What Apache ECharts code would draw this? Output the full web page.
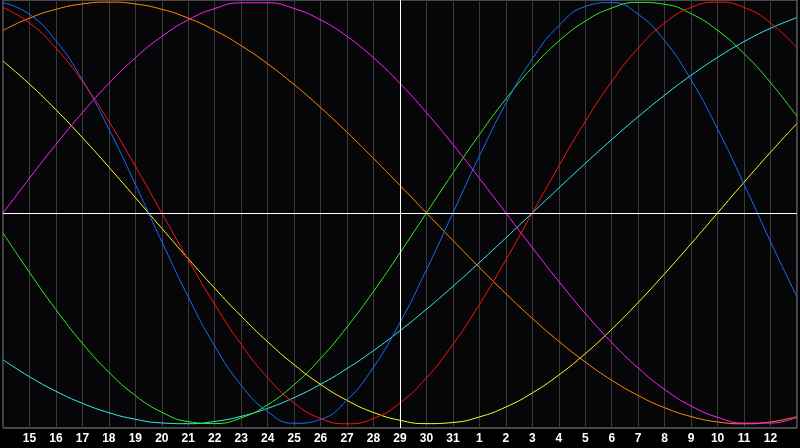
<!DOCTYPE html>
<html>
<head>
<meta charset="utf-8">
<script src="https://cdn.jsdelivr.net/npm/echarts@6/dist/echarts.min.js"></script>
<style>
html,body{margin:0;padding:0;background:#000;}
#chart{width:800px;height:448px;}
</style>
</head>
<body>
<div id="chart"></div>
<script>
// Day categories (first and last are edge points without labels)
const days = ['14','15','16','17','18','19','20','21','22','23','24','25','26','27','28','29','30','31',
              '1','2','3','4','5','6','7','8','9','10','11','12','13'];
const todayLabel = '29';

// Curve values, one per day
const blueVals = [0.9977,0.9423,0.8170,0.6311,0.3984,0.1362,-0.1362,-0.3984,-0.6311,-0.8170,-0.9423,-0.9977,-0.9791,-0.8879,-0.7308,-0.5196,-0.2698,0,0.2698,0.5196,0.7308,0.8879,0.9791,0.9977,0.9423,0.8170,0.6311,0.3984,0.1362,-0.1362,-0.3984];
const redVals = [0.9749,0.9010,0.7818,0.6235,0.4339,0.2225,0,-0.2225,-0.4339,-0.6235,-0.7818,-0.9010,-0.9749,-1,-0.9749,-0.9010,-0.7818,-0.6235,-0.4339,-0.2225,0,0.2225,0.4339,0.6235,0.7818,0.9010,0.9749,1,0.9749,0.9010,0.7818];
const greenVals = [-0.0951,-0.2817,-0.4582,-0.6182,-0.7557,-0.8660,-0.9450,-0.9898,-0.9989,-0.9718,-0.9096,-0.8146,-0.6901,-0.5406,-0.3717,-0.1893,0,0.1893,0.3717,0.5406,0.6901,0.8146,0.9096,0.9718,0.9989,0.9898,0.9450,0.8660,0.7557,0.6182,0.4582];
const magentaVals = [0,0.1646,0.3247,0.4759,0.6142,0.7357,0.8372,0.9158,0.9694,0.9966,0.9966,0.9694,0.9158,0.8372,0.7357,0.6142,0.4759,0.3247,0.1646,0,-0.1646,-0.3247,-0.4759,-0.6142,-0.7357,-0.8372,-0.9158,-0.9694,-0.9966,-0.9966,-0.9694];
const yellowVals = [0.7199,0.6112,0.4894,0.3572,0.2174,0.0730,-0.0730,-0.2174,-0.3572,-0.4894,-0.6112,-0.7199,-0.8133,-0.8893,-0.9465,-0.9834,-0.9993,-0.9940,-0.9675,-0.9204,-0.8536,-0.7686,-0.6673,-0.5518,-0.4244,-0.2881,-0.1456,0,0.1456,0.2881,0.4245];
const orangeVals = [0.8660,0.9239,0.9659,0.9914,1,0.9914,0.9659,0.9239,0.8660,0.7934,0.7071,0.6088,0.5,0.3827,0.2588,0.1305,0,-0.1305,-0.2588,-0.3827,-0.5,-0.6088,-0.7071,-0.7934,-0.8660,-0.9239,-0.9659,-0.9914,-1,-0.9914,-0.9659];
const cyanVals = [-0.6965,-0.7767,-0.8457,-0.9027,-0.9473,-0.9786,-0.9960,-0.9996,-0.9890,-0.9646,-0.9267,-0.8758,-0.8126,-0.7378,-0.6528,-0.5586,-0.4566,-0.3482,-0.2349,-0.1183,0,0.1183,0.2349,0.3482,0.4566,0.5586,0.6528,0.7378,0.8126,0.8758,0.9267];

const seriesDefs = [
  {name:'cyan', data:cyanVals, color:'#33eeee'},
  {name:'yellow', data:yellowVals, color:'#ffff22'},
  {name:'orange', data:orangeVals, color:'#ff8c00'},
  {name:'green', data:greenVals, color:'#33ee22'},
  {name:'magenta', data:magentaVals, color:'#ff22ff'},
  {name:'blue', data:blueVals, color:'#1a6cff'},
  {name:'red', data:redVals, color:'#ff1111'}
];

const chart = echarts.init(document.getElementById('chart'), null, {renderer:'canvas'});
const series = seriesDefs.map(s => ({
  name: s.name, type:'line', data:s.data, smooth:0.5, showSymbol:false, symbol:'none',
  lineStyle:{color:s.color, width:1}, silent:true, animation:false
}));
series.push({
  type:'line', data:[], silent:true, animation:false,
  markLine:{
    silent:true, symbol:'none', label:{show:false}, animation:false,
    lineStyle:{color:'#ffffff', width:1, type:'solid'},
    data:[{yAxis:0},{xAxis:todayLabel}]
  }
});

chart.setOption({
  backgroundColor:'#000000',
  animation:false,
  grid:{left:0, right:1, top:0, bottom:20, show:true, backgroundColor:'#060608', borderColor:'#8c8c8c', borderWidth:1, containLabel:false},
  xAxis:{
    type:'category', data:days, boundaryGap:false,
    axisLine:{show:false}, axisTick:{show:false},
    splitLine:{show:true, interval:0, lineStyle:{color:'#3a3a3a', width:1}},
    axisLabel:{interval:0, margin:5, color:'#ffffff', fontFamily:'Liberation Sans', fontWeight:'bold', fontSize:12,
      formatter:(v, i) => (i === 0 || i === days.length - 1) ? '' : v}
  },
  yAxis:{type:'value', min:-1.02, max:1.01, show:false, splitLine:{show:false}},
  series:series
});
</script>
</body>
</html>
